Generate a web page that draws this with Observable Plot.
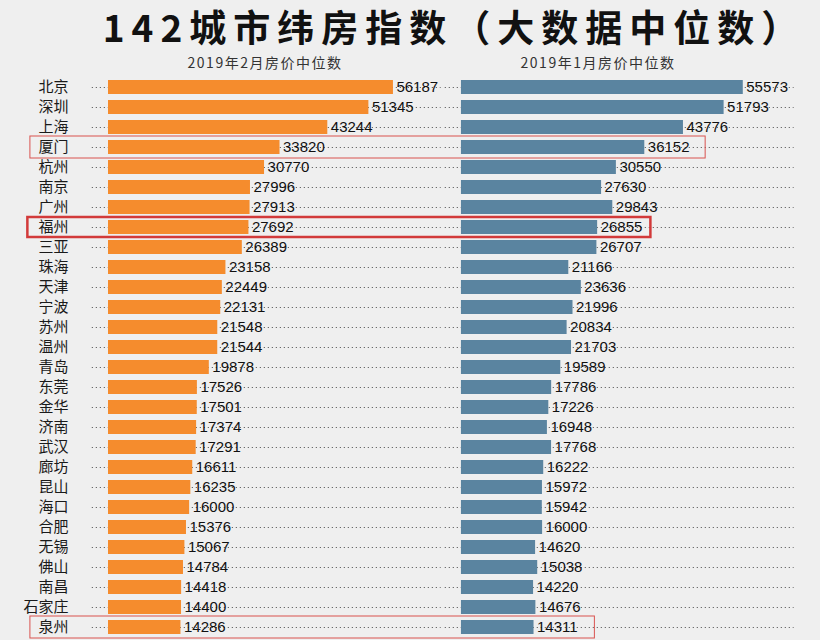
<!DOCTYPE html>
<html>
<head>
<meta charset="utf-8">
<script src="https://cdn.jsdelivr.net/npm/d3@7"></script>
<script src="https://cdn.jsdelivr.net/npm/@observablehq/plot@0.6"></script>
<style>
  html, body { margin: 0; padding: 0; background: #efefef; }
  #wrap { position: relative; width: 820px; height: 640px; overflow: hidden; }
  #title { position: absolute; top: 0; left: 0; width: 820px; height: 53px; line-height: 53px;
           text-align: center; font-family: "Noto Sans CJK SC", sans-serif; font-weight: 700;
           font-size: 37px; letter-spacing: 7px; color: #111; white-space: nowrap; }
  #title span { position: relative; left: 44px; }
  #subs { position: absolute; top: 53px; left: 0; width: 820px; height: 19px;
          font-family: "Noto Sans CJK SC", sans-serif; font-size: 14px; color: #333; letter-spacing: 1.5px; }
  #subs span { position: absolute; top: 0; line-height: 19px; transform: translateX(-50%); white-space: nowrap; }
  #chart { position: absolute; top: 72px; left: 0; }
</style>
</head>
<body>
<div id="wrap">
  <div id="title"><span id="t"></span></div>
  <div id="subs"><span id="s1" style="left:265px"></span><span id="s2" style="left:598px"></span></div>
  <div id="chart"></div>
</div>
<script>
const titleText = "142城市纬房指数（大数据中位数）";
const panelTitles = ["2019年2月房价中位数", "2019年1月房价中位数"];
const cities = ["北京","深圳","上海","厦门","杭州","南京","广州","福州","三亚","珠海","天津","宁波","苏州","温州","青岛","东莞","金华","济南","武汉","廊坊","昆山","海口","合肥","无锡","佛山","南昌","石家庄","泉州"];
const feb = [56187,51345,43244,33820,30770,27996,27913,27692,26389,23158,22449,22131,21548,21544,19878,17526,17501,17374,17291,16611,16235,16000,15376,15067,14784,14418,14400,14286];
const jan = [55573,51793,43776,36152,30550,27630,29843,26855,26707,21166,23636,21996,20834,21703,19589,17786,17226,16948,17768,16222,15972,15942,16000,14620,15038,14220,14676,14311];
const highlighted = ["厦门","福州","泉州"];
const strongHighlight = "福州";

document.getElementById("t").textContent = titleText;
document.getElementById("s1").textContent = panelTitles[0];
document.getElementById("s2").textContent = panelTitles[1];

const rows = cities.map((c, i) => ({city: c, feb: feb[i], jan: jan[i]}));
const offset = 69600;      // gap between the two panels' zero points, in value units
const dotFrom = -3200, dotTo = 65600;
const boxLeft = -15400, boxPad = 12000;

const orange = "#f58c2d", blue = "#5a84a0";
const dotStyle = {stroke: "#666", strokeWidth: 1.2, strokeDasharray: "1.2,2.8"};
const valFont = {fontFamily: "Liberation Sans, Arial, sans-serif", fontSize: 15, fill: "#111", textAnchor: "start", dx: 3};

const hl = rows.filter(d => highlighted.includes(d.city));

const chart = Plot.plot({
  width: 820, height: 568,
  marginLeft: 108, marginRight: 0, marginTop: 2, marginBottom: 0,
  style: {background: "transparent"},
  x: {domain: [0, 140400], axis: null},
  y: {domain: cities, padding: 0.3, axis: null, label: null},
  marks: [
    Plot.ruleY(rows, {y: "city", x1: dotFrom, x2: dotTo, ...dotStyle}),
    Plot.ruleY(rows, {y: "city", x1: offset + dotFrom, x2: offset + dotTo, ...dotStyle}),
    Plot.barX(rows, {y: "city", x: "feb", fill: orange}),
    Plot.barX(rows, {y: "city", x1: offset, x2: d => offset + d.jan, fill: blue}),
    Plot.text(rows, {y: "city", x: "feb", text: d => String(d.feb), ...valFont}),
    Plot.text(rows, {y: "city", x: d => offset + d.jan, text: d => String(d.jan), ...valFont}),
    Plot.axisY({tickSize: 0, tickPadding: 40, fontSize: 15, fill: "#1a1a1a", label: null,
                fontFamily: "Noto Sans CJK SC, sans-serif"}),
    Plot.rect(hl.filter(d => d.city !== strongHighlight),
      {y: "city", x1: boxLeft, x2: d => offset + d.jan + boxPad, fill: "none",
       stroke: "#d9534f", strokeWidth: 1, insetTop: -4, insetBottom: -4}),
    Plot.rect(hl.filter(d => d.city === strongHighlight),
      {y: "city", x1: boxLeft - 500, x2: d => offset + d.jan + boxPad - 1500, fill: "none",
       stroke: "#d23a3a", strokeWidth: 2.5, insetTop: -3, insetBottom: -3})
  ]
});
document.getElementById("chart").appendChild(chart);
</script>
</body>
</html>
